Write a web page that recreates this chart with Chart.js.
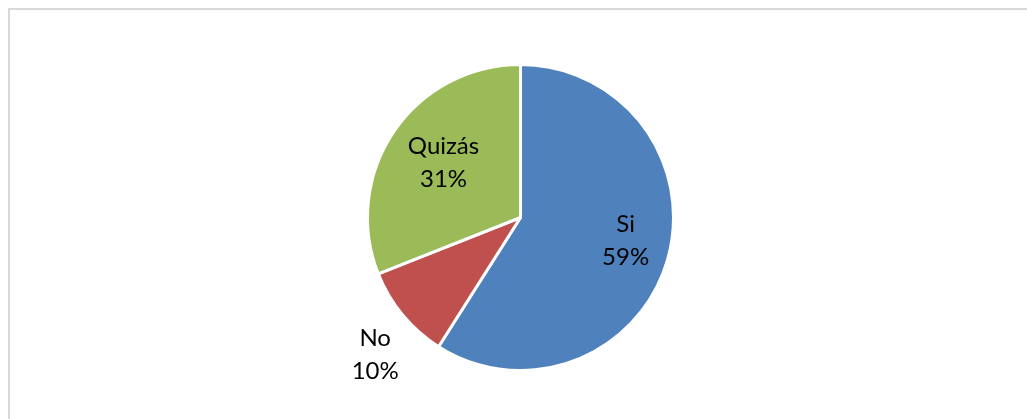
<!DOCTYPE html>
<html lang="es">
<head>
    <meta charset="UTF-8">
    <title>Pie</title>
    <script src="https://cdn.jsdelivr.net/npm/chart.js"></script>
    <style>
        html, body {
            margin: 0;
            padding: 0;
            background: #ffffff;
            overflow: hidden;
        }
        .frame {
            position: absolute;
            left: 8px;
            top: 8px;
            width: 2000px;
            height: 2000px;
            border-top: 2px solid #d9d9d9;
            border-left: 2px solid #d9d9d9;
        }
        .chart-box {
            position: absolute;
            left: 0;
            top: 0;
            width: 1027px;
            height: 419px;
        }
    </style>
</head>
<body>
    <div class="frame"></div>
    <div class="chart-box">
        <canvas id="pieChart"></canvas>
    </div>

    <script>
        // data
        const categories = ['Si', 'No', 'Quizás'];
        const values = [59, 10, 31];
        const colors = ['#4f81bd', '#c0504d', '#9bbb59'];
        // where each label sits: share of the radius, and a small turn in degrees
        const labelRadius = [0.704, 1.305, 0.618];
        const labelTurn = [-3.5, -3.7, 1.3];

        const sliceLabels = {
            id: 'sliceLabels',
            afterDatasetsDraw(chart) {
                const ctx = chart.ctx;
                const meta = chart.getDatasetMeta(0);
                const total = values.reduce((a, b) => a + b, 0);
                ctx.save();
                ctx.fillStyle = '#000000';
                ctx.font = '24px Lato, sans-serif';
                ctx.textAlign = 'center';
                ctx.textBaseline = 'middle';
                meta.data.forEach((arc, i) => {
                    const mid = (arc.startAngle + arc.endAngle) / 2 + labelTurn[i] * Math.PI / 180;
                    const r = arc.outerRadius * labelRadius[i];
                    const x = arc.x + Math.cos(mid) * r;
                    const y = arc.y + Math.sin(mid) * r;
                    const pct = Math.round(values[i] / total * 100) + '%';
                    ctx.fillText(categories[i], x, y - 16.5);
                    ctx.fillText(pct, x, y + 16.5);
                });
                ctx.restore();
            }
        };

        new Chart(document.getElementById('pieChart'), {
            type: 'pie',
            data: {
                labels: categories,
                datasets: [{
                    data: values,
                    backgroundColor: colors,
                    borderColor: '#ffffff',
                    borderWidth: 3
                }]
            },
            options: {
                responsive: true,
                maintainAspectRatio: false,
                animation: false,
                layout: {
                    padding: { top: 63, bottom: 47, left: 14, right: 0 }
                },
                plugins: {
                    legend: { display: false },
                    tooltip: { enabled: false }
                }
            },
            plugins: [sliceLabels]
        });
    </script>
</body>
</html>
